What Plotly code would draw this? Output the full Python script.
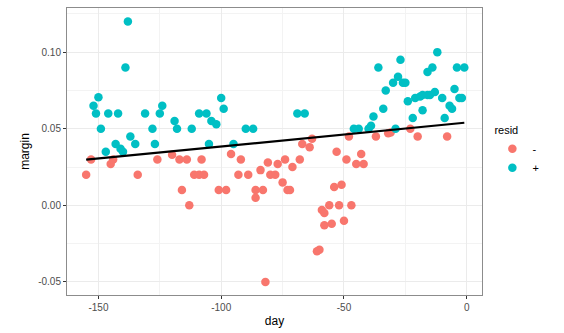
import numpy as np
import plotly.graph_objects as go

# resid "+" points (above fit)
pos_day = [-152, -151, -150, -149, -147, -146, -143, -142, -141, -140, -139, -138, -137, -135,
           -131, -128, -127, -125, -124, -119, -118, -112, -109, -106, -105, -104, -102, -100,
           -99, -95, -90, -87, -69, -66, -46, -44, -40, -39, -38, -36, -34, -33, -30, -29,
           -28, -27, -26, -25, -24, -22, -21, -19, -18, -18, -16, -16, -15, -14, -13, -12,
           -10, -9, -7, -6, -5, -4, -3, -2, -1]
pos_margin = [0.065, 0.060, 0.0705, 0.050, 0.035, 0.060, 0.040, 0.060, 0.037, 0.035, 0.090, 0.120,
              0.045, 0.040, 0.060, 0.050, 0.040, 0.060, 0.065, 0.055, 0.050, 0.050, 0.060, 0.060,
              0.040, 0.055, 0.053, 0.070, 0.063, 0.040, 0.050, 0.050, 0.060, 0.060, 0.050, 0.050,
              0.050, 0.052, 0.058, 0.090, 0.063, 0.075, 0.080, 0.050, 0.084, 0.095, 0.080, 0.080,
              0.068, 0.057, 0.070, 0.071, 0.062, 0.072, 0.072, 0.087, 0.072, 0.090, 0.074, 0.100,
              0.070, 0.057, 0.065, 0.063, 0.076, 0.090, 0.070, 0.070, 0.090]

# resid "-" points (below fit)
neg_day = [-155, -153, -145, -144, -134, -126, -120, -117, -116, -114, -113, -111, -109, -107,
           -108, -101, -98, -96, -93, -92, -89, -86, -86, -84, -83, -82, -81, -80, -78, -77,
           -75, -74, -73, -72, -71, -68, -67, -64, -63, -61, -60, -59, -58, -58, -56, -55,
           -54, -53, -52, -51, -50, -49, -48, -47, -45, -43, -42, -37, -32, -31, -23, -20, -8]
neg_margin = [0.020, 0.030, 0.027, 0.030, 0.020, 0.030, 0.033, 0.030, 0.010, 0.030, 0.000, 0.020,
              0.020, 0.020, 0.030, 0.010, 0.010, 0.0335, 0.020, 0.030, 0.020, 0.010, 0.005, 0.023,
              0.010, -0.050, 0.028, 0.020, 0.020, 0.027, 0.015, 0.030, 0.010, 0.010, 0.025, 0.030,
              0.040, 0.038, 0.0435, -0.030, -0.029, -0.003, -0.013, -0.005, 0.000, -0.012, 0.012,
              0.035, 0.000, 0.0135, -0.010, 0.030, 0.045, 0.000, 0.027, 0.0335, 0.027, 0.045,
              0.047, 0.0475, 0.050, 0.045, 0.045]

x_ticks = [-150, -100, -50, 0]
x_tick_labels = ["-150", "-100", "-50", "0"]
y_ticks = [-0.05, 0.00, 0.05, 0.10]
y_tick_labels = ["-0.05", "0.00", "0.05", "0.10"]

all_day = np.array(pos_day + neg_day, dtype=float)
all_margin = np.array(pos_margin + neg_margin, dtype=float)
slope, intercept = np.polyfit(all_day, all_margin, 1)
line_x = np.array([all_day.min(), all_day.max()])
line_y = intercept + slope * line_x

RED = "#F8766D"
TEAL = "#00BFC4"

fig = go.Figure()
fig.add_trace(go.Scatter(x=neg_day, y=neg_margin, mode="markers", name="-",
                         marker=dict(color=RED, size=8.5, line=dict(width=0))))
fig.add_trace(go.Scatter(x=pos_day, y=pos_margin, mode="markers", name="+",
                         marker=dict(color=TEAL, size=8.5, line=dict(width=0))))
fig.add_trace(go.Scatter(x=line_x, y=line_y, mode="lines", showlegend=False,
                         line=dict(color="black", width=2.2)))

axis_common = dict(
    showgrid=True, gridcolor="#EBEBEB", gridwidth=1,
    zeroline=False, showline=True, linecolor="#8c8c8c", linewidth=1, mirror=True,
    ticks="outside", ticklen=3, tickcolor="#333333", tickwidth=1,
    tickfont=dict(size=10, color="#4D4D4D", family="Liberation Sans, Arial, sans-serif"),
)

fig.update_layout(
    width=564, height=333,
    margin=dict(l=67, r=82, t=8, b=38),
    paper_bgcolor="white", plot_bgcolor="white",
    font=dict(family="Liberation Sans, Arial, sans-serif", color="black"),
    xaxis=dict(range=[-162.8, 6.2], tickvals=x_ticks, ticktext=x_tick_labels,
               title=dict(text="day", font=dict(size=12), standoff=4),
               minor=dict(dtick=25, tick0=0, showgrid=True, gridcolor="#F3F3F3", gridwidth=0.6, ticks=""),
               **axis_common),
    yaxis=dict(range=[-0.0585, 0.1288], tickvals=y_ticks, ticktext=y_tick_labels,
               title=dict(text="margin", font=dict(size=12), standoff=6),
               minor=dict(dtick=0.025, tick0=0, showgrid=True, gridcolor="#F3F3F3", gridwidth=0.6, ticks=""),
               **axis_common),
    legend=dict(title=dict(text="resid", font=dict(size=11)), font=dict(size=11),
                x=1.025, xanchor="left", y=0.5, yanchor="middle",
                itemsizing="trace", bgcolor="rgba(0,0,0,0)"),
)

fig.write_html("out.html")
